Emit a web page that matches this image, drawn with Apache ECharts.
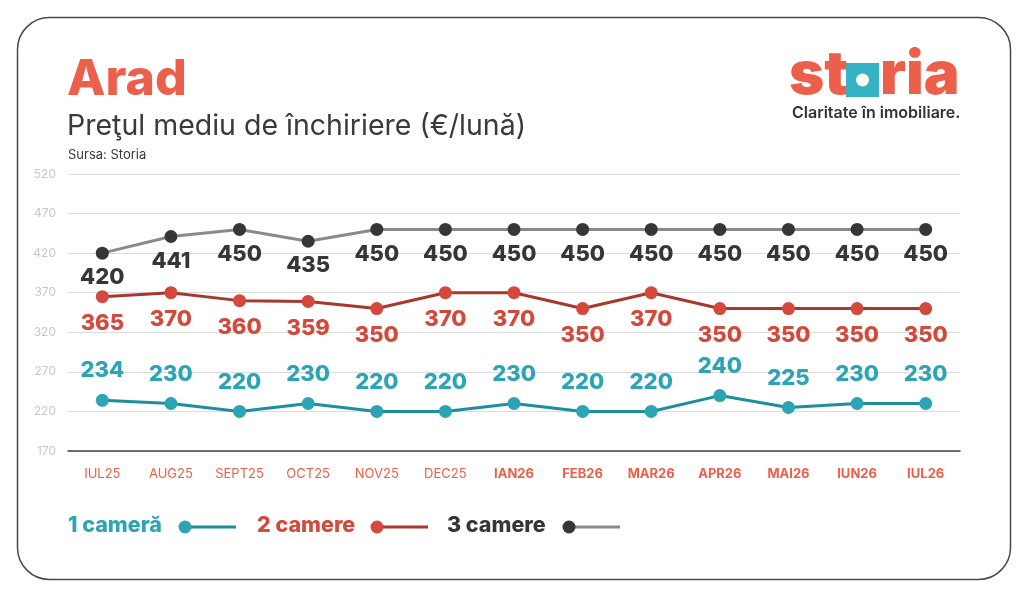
<!DOCTYPE html>
<html>
<head>
<meta charset="utf-8">
<script src="https://cdn.jsdelivr.net/npm/echarts@6/dist/echarts.min.js"></script>
<style>
  html, body { margin: 0; padding: 0; background: #fff; }
  #chart { width: 1024px; height: 592px; }
</style>
</head>
<body>
<div id="chart"></div>
<script>
// date
var months = ['IUL25', 'AUG25', 'SEPT25', 'OCT25', 'NOV25', 'DEC25', 'IAN26', 'FEB26', 'MAR26', 'APR26', 'MAI26', 'IUN26', 'IUL26'];
var oneRoom = [234, 230, 220, 230, 220, 220, 230, 220, 220, 240, 225, 230, 230];
var twoRooms = [365, 370, 360, 359, 350, 370, 370, 350, 370, 350, 350, 350, 350];
var threeRooms = [420, 441, 450, 435, 450, 450, 450, 450, 450, 450, 450, 450, 450];
var seriesNames = ['1 cameră', '2 camere', '3 camere'];
var yMin = 170, yMax = 520, yStep = 50;
var boldFrom = 6; // de la IAN26 etichetele sunt bold

var FONT = 'Inter, "Noto Sans", sans-serif';
var SALMON = '#EC5F4A';
var TEAL = '#2BA5B5', TEAL_LINE = '#1E8E9C';
var RED = '#D4493B', RED_LINE = '#A8382E';
var DARK = '#363636', GREY_LINE = '#8A8A8A';

var myChart = echarts.init(document.getElementById('chart'));

function legendItem(x, name, color, dot, line, textW) {
    return [{
        type: 'text', x: x, y: 526,
        style: { text: name, fill: color, font: '800 21.5px ' + FONT, verticalAlign: 'middle' }
    }, {
        type: 'line', shape: { x1: x + textW + 21, y1: 527, x2: x + textW + 72, y2: 527 },
        style: { stroke: line, lineWidth: 3 }
    }, {
        type: 'circle', shape: { cx: x + textW + 21, cy: 527, r: 6.5 },
        style: { fill: dot }
    }];
}

option = {
    animation: false,
    title: [{
        left: 67,
        top: 55,
        padding: 0,
        text: 'Arad',
        textStyle: { fontFamily: FONT, fontSize: 50, fontWeight: 800, color: SALMON }
    }, {
        left: 67,
        top: 112,
        padding: 0,
        text: 'Preţul mediu de închiriere (€/lună)',
        textStyle: { fontFamily: FONT, fontSize: 28.5, fontWeight: 400, color: '#3a3a3a' }
    }, {
        left: 68,
        top: 149,
        padding: 0,
        text: 'Sursa: Storia',
        textStyle: { fontFamily: FONT, fontSize: 13, fontWeight: 400, color: '#3a3a3a' }
    }],
    grid: {
        left: 68,
        right: 64,
        top: 174,
        bottom: 141
    },
    xAxis: {
        type: 'category',
        data: months,
        boundaryGap: true,
        axisLine: { lineStyle: { color: '#444', width: 1.5 } },
        axisTick: { show: false },
        axisLabel: {
            interval: 0,
            margin: 17,
            formatter: function (value, index) {
                return (index >= boldFrom ? '{b|' : '{n|') + value + '}';
            },
            rich: {
                n: { fontFamily: FONT, fontSize: 13, fontWeight: 400, color: SALMON },
                b: { fontFamily: FONT, fontSize: 13, fontWeight: 700, color: SALMON }
            }
        }
    },
    yAxis: {
        type: 'value',
        min: yMin,
        max: yMax,
        interval: yStep,
        axisLine: { show: false },
        axisTick: { show: false },
        axisLabel: { margin: 12, fontFamily: FONT, fontSize: 12, color: '#c8c8c8' },
        splitLine: { lineStyle: { color: '#dcdcdc', width: 1 } }
    },
    series: [{
        name: seriesNames[0],
        type: 'line',
        data: oneRoom,
        symbol: 'circle',
        symbolSize: 13,
        itemStyle: { color: TEAL },
        lineStyle: { color: TEAL_LINE, width: 3 },
        label: {
            show: true,
            position: 'top',
            distance: 12,
            fontFamily: FONT,
            fontSize: 22,
            fontWeight: 800,
            color: TEAL
        }
    }, {
        name: seriesNames[1],
        type: 'line',
        data: twoRooms,
        symbol: 'circle',
        symbolSize: 13,
        itemStyle: { color: RED },
        lineStyle: { color: RED_LINE, width: 3 },
        label: {
            show: true,
            position: 'bottom',
            distance: 9,
            fontFamily: FONT,
            fontSize: 22,
            fontWeight: 800,
            color: RED
        }
    }, {
        name: seriesNames[2],
        type: 'line',
        data: threeRooms,
        symbol: 'circle',
        symbolSize: 13,
        itemStyle: { color: DARK },
        lineStyle: { color: GREY_LINE, width: 3 },
        label: {
            show: true,
            position: 'bottom',
            distance: 7,
            fontFamily: FONT,
            fontSize: 22,
            fontWeight: 800,
            color: DARK
        }
    }],
    graphic: [].concat(
        // chenarul rotunjit
        [{
            type: 'rect', left: 15, top: 15, z: -1,
            shape: { width: 993, height: 562, r: 32 },
            style: { fill: 'none', stroke: '#4a4a4a', lineWidth: 1.5 }
        },
        // logo storia
        {
            type: 'text', x: 789, y: 76,
            style: { text: 'st', fill: SALMON, font: '900 60px ' + FONT, verticalAlign: 'middle' }
        }, {
            type: 'rect', left: 846, top: 63,
            shape: { width: 33, height: 34 },
            style: { fill: '#35B3C4' }
        }, {
            type: 'circle', shape: { cx: 862.5, cy: 80, r: 6.5 },
            style: { fill: '#fff' }
        }, {
            type: 'text', x: 880, y: 76,
            style: { text: 'ria', fill: SALMON, font: '900 60px ' + FONT, verticalAlign: 'middle' }
        }, {
            type: 'text', x: 792, y: 113,
            style: { text: 'Claritate în imobiliare.', fill: '#333', font: '600 16px ' + FONT, verticalAlign: 'middle' }
        }],
        legendItem(68, seriesNames[0], TEAL, TEAL, TEAL_LINE, 96),
        legendItem(257, seriesNames[1], RED, RED, RED_LINE, 99),
        legendItem(447, seriesNames[2], DARK, DARK, GREY_LINE, 101)
    )
};

myChart.setOption(option);
</script>
</body>
</html>
